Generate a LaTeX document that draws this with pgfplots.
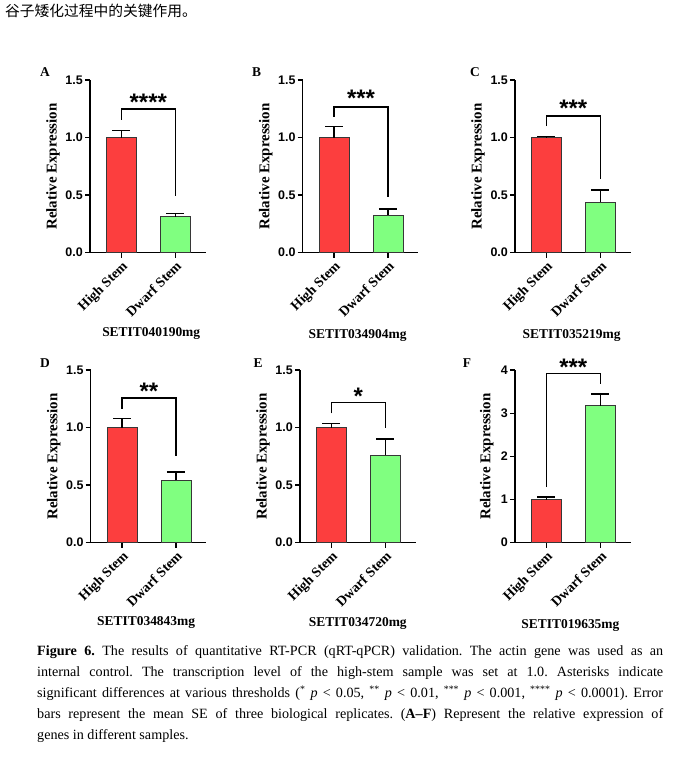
\documentclass[border=0pt]{standalone}
\usepackage{fontspec}
\setmainfont{Liberation Serif}
\newfontfamily\arial{Liberation Sans}
\newfontfamily\cjk{Noto Sans CJK SC}
\usepackage{pgfplots}
\pgfplotsset{compat=1.18}
\definecolor{barred}{RGB}{252,62,62}
\definecolor{bargreen}{RGB}{128,255,128}
\definecolor{edge}{RGB}{55,55,55}
\pgfplotsset{
  panel/.style={
    scale only axis, width=115.5bp, height=172.5bp, anchor=south west,
    axis x line*=bottom, axis y line*=left,
    axis line style={line width=1.4bp,-},
    every tick/.style={black, line width=1.4bp},
    major tick length=5bp, tick align=outside,
    xmin=-0.58, xmax=1.56,
    xtick={0,1}, xticklabels={High Stem, Dwarf Stem},
    xticklabel style={rotate=45, anchor=north east, inner sep=1.5bp,
      font=\bfseries\fontsize{14}{14}\selectfont},
    ymin=0, ymax=1.5, ytick={0,0.5,1,1.5},
    yticklabel style={font=\arial\bfseries\fontsize{12.5}{12.5}\selectfont, inner sep=2bp,
      /pgf/number format/fixed, /pgf/number format/fixed zerofill,
      /pgf/number format/precision=1},
    /pgf/number format/assume math mode=true,
    ylabel={Relative Expression},
    ylabel style={at={(axis description cs:-0.32,0.5)}, anchor=center,
      font=\bfseries\fontsize{15}{15}\selectfont},
    xlabel style={anchor=center, font=\bfseries\fontsize{13.5}{13.5}\selectfont},
    clip=false,
  },
  redbar/.style={ybar, bar width=30bp, fill=barred, draw=edge, line width=0.8bp,
    error bars/y dir=plus, error bars/y explicit,
    error bars/error bar style={line width=1.4bp, black},
    error bars/error mark options={rotate=90, line width=1.4bp, mark size=9bp, black}},
  greenbar/.style={redbar, fill=bargreen},
  bracket/.style={black, line width=1.4bp, mark=none},
}
\newcommand{\stars}[2]{\node[font=\arial\bfseries\fontsize{24}{24}\selectfont, anchor=base, yshift=-13.3bp, inner sep=0pt] at (axis cs:0.5,#1) {#2};}
\newcommand{\plabel}[3]{\node[font=\bfseries\fontsize{13.5}{13.5}\selectfont, xshift=#2, yshift=#3] at (axis description cs:0,1) {#1};}
\begin{document}
\frenchspacing
\begin{tikzpicture}[x=1bp,y=1bp]
\path[use as bounding box] (0,0) rectangle (686,770);
\node[anchor=west, inner sep=0pt, font=\cjk\fontsize{14.8}{14.8}\selectfont] at (5,759.2) {谷子矮化过程中的关键作用。};

% A
\begin{axis}[panel, at={(90bp,517.3bp)}, xlabel={SETIT040190mg},
  xlabel style={at={(axis description cs:0.53,-0.47)}}]
\addplot[redbar] coordinates {(0,1.0) +- (0,0.064)};
\addplot[greenbar] coordinates {(1,0.314) +- (0,0.025)};
\addplot[bracket] coordinates {(0,1.157) (0,1.25) (1,1.25) (1,0.494)};
\stars{1.349}{****}
\plabel{A}{-45bp}{7.7bp}
\end{axis}

% B
\begin{axis}[panel, at={(302.7bp,517.3bp)}, xlabel={SETIT034904mg},
  xlabel style={at={(axis description cs:0.475,-0.48)}}]
\addplot[redbar] coordinates {(0,1.0) +- (0,0.095)};
\addplot[greenbar] coordinates {(1,0.326) +- (0,0.055)};
\addplot[bracket] coordinates {(0,1.18) (0,1.268) (1,1.268) (1,0.48)};
\stars{1.39}{***}
\plabel{B}{-46bp}{7.7bp}
\end{axis}

% C
\begin{axis}[panel, at={(515bp,517.3bp)}, xlabel={SETIT035219mg},
  xlabel style={at={(axis description cs:0.49,-0.48)}}]
\addplot[redbar] coordinates {(0,1.0) +- (0,0.012)};
\addplot[greenbar] coordinates {(1,0.44) +- (0,0.105)};
\addplot[bracket] coordinates {(0,1.10) (0,1.187) (1,1.187) (1,0.637)};
\stars{1.303}{***}
\plabel{C}{-40bp}{7.7bp}
\end{axis}

% D
\begin{axis}[panel, at={(90.7bp,227.3bp)}, xlabel={SETIT034843mg},
  xlabel style={at={(axis description cs:0.48,-0.46)}}]
\addplot[redbar] coordinates {(0,1.0) +- (0,0.079)};
\addplot[greenbar] coordinates {(1,0.542) +- (0,0.072)};
\addplot[bracket] coordinates {(0,1.163) (0,1.258) (1,1.258) (1,0.75)};
\stars{1.364}{**}
\plabel{D}{-45.7bp}{6.6bp}
\end{axis}

% E
\begin{axis}[panel, at={(300bp,227.3bp)}, xlabel={SETIT034720mg},
  xlabel style={at={(axis description cs:0.5,-0.47)}}]
\addplot[redbar] coordinates {(0,1.0) +- (0,0.038)};
\addplot[greenbar] coordinates {(1,0.759) +- (0,0.144)};
\addplot[bracket] coordinates {(0,1.125) (0,1.22) (1,1.22) (1,0.995)};
\stars{1.321}{*}
\plabel{E}{-42bp}{6.6bp}
\end{axis}

% F
\begin{axis}[panel, at={(515bp,227.3bp)}, xlabel={SETIT019635mg},
  xlabel style={at={(axis description cs:0.48,-0.48)}},
  ymax=4, ytick={0,1,2,3,4},
  yticklabel style={/pgf/number format/precision=0},
  ylabel style={at={(axis description cs:-0.245,0.5)}}]
\addplot[redbar] coordinates {(0,1.0) +- (0,0.06)};
\addplot[greenbar] coordinates {(1,3.177) +- (0,0.269)};
\addplot[bracket] coordinates {(0,1.29) (0,3.92) (1,3.92) (1,3.69)};
\stars{4.175}{***}
\plabel{F}{-48bp}{6.6bp}
\end{axis}

% caption
\begin{scope}[every node/.style={anchor=base west, inner sep=0pt, font=\frenchspacing\fontsize{14.2}{14.2}\selectfont}]
\node at (37,114.3) {\makebox[626bp][s]{\textbf{Figure 6.} The results of quantitative RT-PCR (qRT-qPCR) validation. The actin gene was used as an}};
\node at (37,93.0) {\makebox[626bp][s]{internal control. The transcription level of the high-stem sample was set at 1.0. Asterisks indicate}};
\node at (37,72.3) {\makebox[626bp][s]{significant differences at various thresholds (\textsuperscript{*} \textit{p} < 0.05, \textsuperscript{**} \textit{p} < 0.01, \textsuperscript{***} \textit{p} < 0.001, \textsuperscript{****} \textit{p} < 0.0001). Error}};
\node at (37,51.0) {\makebox[626bp][s]{bars represent the mean SE of three biological replicates. (\textbf{A--F}) Represent the relative expression of}};
\node at (37,30.0) {genes in different samples.};
\end{scope}
\end{tikzpicture}
\end{document}
